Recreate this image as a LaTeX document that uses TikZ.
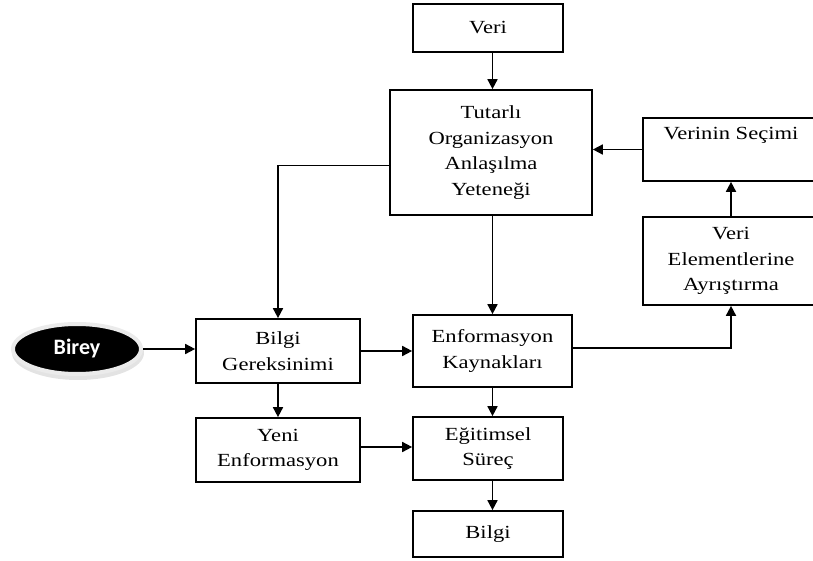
\documentclass[tikz,border=0pt]{standalone}
\usepackage{fontspec}
\setmainfont{Liberation Serif}[FakeStretch=1.22]
\newfontfamily\bireyfont{Carlito}
\usetikzlibrary{arrows.meta,shapes.geometric,calc}
\begin{document}
\begin{tikzpicture}[x=1pt,y=-1pt,
  box/.style={draw,line width=1.7pt,rectangle,align=center,inner sep=0pt,
    font=\fontsize{18.5}{25.5}\selectfont},
  arr/.style={line width=1.7pt,-{Triangle[length=10pt,width=10pt]}}]
\useasboundingbox (0,0) rectangle (813,561);
% Birey ellipse with halo and shadow
\fill[black!18,opacity=0.6] (78,353) ellipse [x radius=66,y radius=27];
\node[ellipse,fill=black,draw=black!8,line width=4pt,minimum width=128pt,minimum height=50pt,inner sep=0pt,
  text=white,font=\bireyfont\bfseries\fontsize{22}{24}\selectfont] (birey) at (77,349) {Birey};
% boxes
\node[box,minimum width=150pt,minimum height=48pt] (veri) at (488,28) {Veri};
\node[box,minimum width=202pt,minimum height=125pt] (tut) at (491,152.5) {Tutarlı\\Organizasyon\\Anlaşılma\\Yeteneği};
\node[box,minimum width=176pt,minimum height=63pt] (sec) at (731,149.5) {Verinin Seçimi\\\strut};
\node[box,minimum width=176pt,minimum height=88pt] (ayr) at (731,261) {Veri\\Elementlerine\\Ayrıştırma};
\node[box,minimum width=164pt,minimum height=64pt] (bg) at (278,351) {Bilgi\\Gereksinimi};
\node[box,minimum width=159pt,minimum height=72pt] (ek) at (492.5,351) {Enformasyon\\Kaynakları};
\node[box,minimum width=164pt,minimum height=64pt] (yeni) at (278,450) {Yeni\\Enformasyon};
\node[box,minimum width=150pt,minimum height=63pt] (egt) at (488,448.5) {Eğitimsel\\Süreç};
\node[box,minimum width=150pt,minimum height=46pt] (bilgi) at (488,534) {Bilgi};
% connectors
\draw[arr] (veri.south -| ek.center) -- (tut.north -| ek.center);
\draw[arr] ($(tut.west)+(0,13)$) -| (bg.north);
\draw[arr] (tut.south -| ek.center) -- (ek.north);
\draw[arr] (sec.west) -- (sec.west -| tut.east);
\draw[arr] (ayr.north) -- (sec.south);
\draw[arr] ($(ek.east)+(0,-3)$) -| (ayr.south);
\draw[arr] (birey.east) -- (birey.east -| bg.west);
\draw[arr] (bg.east) -- (bg.east -| ek.west);
\draw[arr] (bg.south) -- (yeni.north);
\draw[arr] ($(yeni.east)+(0,-3)$) -- ($(yeni.east -| egt.west)+(0,-3)$);
\draw[arr] (ek.south) -- (egt.north -| ek.center);
\draw[arr] (egt.south -| ek.center) -- (bilgi.north -| ek.center);
\end{tikzpicture}
\end{document}
